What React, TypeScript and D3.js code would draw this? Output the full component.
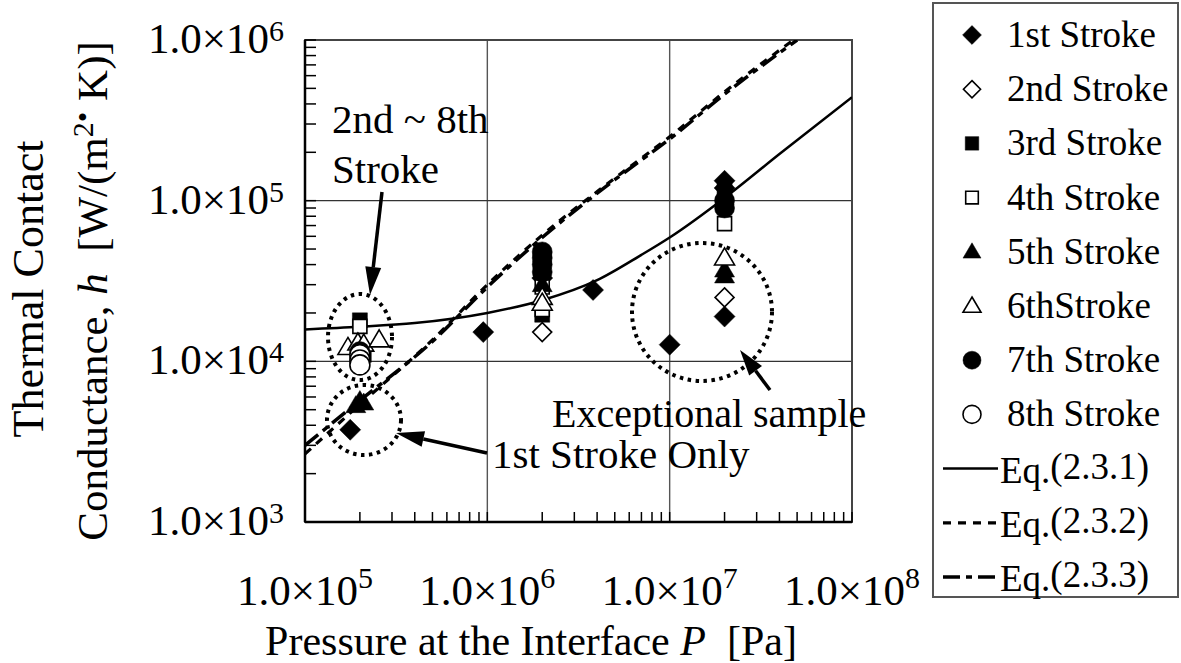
import * as d3 from 'd3';

// ---- data ----
const strokeNames = ['1st Stroke', '2nd Stroke', '3rd Stroke', '4th Stroke', '5th Stroke', '6thStroke', '7th Stroke', '8th Stroke'];
const eqNames = ['(2.3.1)', '(2.3.2)', '(2.3.3)'];

// measured points, pressure P [Pa] and conductance h [W/(m2 K)]
const s1P = [1.77e5, 9.5e5, 2e6, 3.8e6, 1e7, 2e7, 2e7, 2e7];
const s1H = [3.75e3, 1.52e4, 3.3e4, 2.78e4, 1.27e4, 1.9e4, 1.33e5, 1.2e5];
const s2P = [2e6, 2e7];
const s2H = [1.52e4, 2.5e4];
const s3P = [2e5, 2e6, 2e6, 2e7];
const s3H = [1.8e4, 1.95e4, 3.6e4, 1.15e5];
const s4P = [2e5, 2.1e5, 2e6, 2e6, 2e7];
const s4H = [1.65e4, 1.1e4, 2.1e4, 2.9e4, 7.2e4];
const s5P = [1.9e5, 2.0e5, 2.1e5, 2e6, 2e7, 2e7];
const s5H = [5.3e3, 5.7e3, 5.5e3, 3.0e4, 3.4e4, 3.7e4];
const s6P = [1.72e5, 1.95e5, 2.1e5, 2.55e5, 2e6, 2e6, 2e7];
const s6H = [1.22e4, 1.3e4, 1.28e4, 1.36e4, 2.5e4, 2.3e4, 4.4e4];
const s7P = [2e5, 2e6, 2e6, 2e6, 2e6, 2e7, 2e7];
const s7H = [1.15e4, 4.8e4, 4.4e4, 4.0e4, 3.6e4, 1.0e5, 9.0e4];
const s8P = [2e5, 2e5, 2e5];
const s8H = [1.1e4, 1.02e4, 9.5e3];

// model curves
const eq1P = [1e5, 2e5, 4e5, 1e6, 2e6, 4e6, 7e6, 1e7, 2e7, 4e7, 1e8];
const eq1H = [1.58e4, 1.64e4, 1.73e4, 2.0e4, 2.4e4, 3.2e4, 4.6e4, 5.9e4, 1.04e5, 1.95e5, 4.4e5];
const eq2P = [1e5, 2e5, 5e5, 1e6, 2e6, 5e6, 1e7, 2e7, 5e7];
const eq2H = [2.65e3, 5.4e3, 1.36e4, 3.0e4, 6.1e4, 1.38e5, 2.5e5, 4.75e5, 1.04e6];
const eq3P = [1e5, 2e5, 5e5, 1e6, 2e6, 5e6, 1e7, 2e7, 5e7];
const eq3H = [3.0e3, 5.7e3, 1.33e4, 2.9e4, 5.9e4, 1.35e5, 2.42e5, 4.6e5, 1.0e6];

const xTickExp = [5, 6, 7, 8];
const yTickExp = [3, 4, 5, 6];

const FONT = "'Liberation Serif','Times New Roman',serif";

const seriesP = [s1P, s2P, s3P, s4P, s5P, s6P, s7P, s8P];
const seriesH = [s1H, s2H, s3H, s4H, s5H, s6H, s7H, s8H];
const markerShape = ['diamond', 'diamond', 'square', 'square', 'triangle', 'triangle', 'circle', 'circle'];
const markerFilled = [true, false, true, false, true, false, true, false];
const eqDash = ['none', '8,7', '17,6,6,6'];

const Marker = ({ shape, filled, x, y, k = 1 }: { shape: string; filled: boolean; x: number; y: number; k?: number }) => {
  const fill = filled ? '#000' : '#fff';
  const sw = filled ? 0.5 : 1.6;
  if (shape === 'circle') {
    return <circle cx={x} cy={y} r={10 * k} fill={fill} stroke="#000" strokeWidth={sw} />;
  }
  let d = '';
  if (shape === 'diamond') {
    const r = (filled ? 10.5 : 9.5) * k;
    d = `M0,${-r}L${r},0L0,${r}L${-r},0Z`;
  } else if (shape === 'square') {
    const s = (filled ? 7.5 : 7) * k;
    d = `M${-s},${-s}H${s}V${s}H${-s}Z`;
  } else {
    const w = 10 * k;
    d = `M0,${-10 * k}L${w},${7 * k}L${-w},${7 * k}Z`;
  }
  return <path d={d} transform={`translate(${x},${y})`} fill={fill} stroke="#000" strokeWidth={sw} />;
};

const Arrow = ({ x1, y1, x2, y2, len = 28, half = 8 }: any) => {
  const a = Math.atan2(y2 - y1, x2 - x1);
  const bx = x2 - len * Math.cos(a);
  const by = y2 - len * Math.sin(a);
  const px = -Math.sin(a) * half;
  const py = Math.cos(a) * half;
  return (
    <g>
      <line x1={x1} y1={y1} x2={bx} y2={by} stroke="#000" strokeWidth={3.5} />
      <path d={`M${x2},${y2}L${bx + px},${by + py}L${bx - px},${by - py}Z`} fill="#000" />
    </g>
  );
};

export default function App() {
  const left = 305, right = 852, top = 40, bottom = 522;

  const x = d3.scaleLog().domain([1e5, 1e8]).range([left, right]);
  const y = d3.scaleLog().domain([1e3, 1e6]).range([bottom, top]);

  const line = d3.line<[number, number]>()
    .x(d => x(d[0]))
    .y(d => y(d[1]))
    .curve(d3.curveMonotoneX);

  const eqPaths = [
    line(eq1P.map((p, i) => [p, eq1H[i]])),
    line(eq2P.map((p, i) => [p, eq2H[i]])),
    line(eq3P.map((p, i) => [p, eq3H[i]])),
  ];
  const eqWidth = [2.5, 3.2, 3.5];

  const legendY = (i: number) => 35 + i * 54.2;

  return (
    <svg width={1181} height={663} style={{ position: 'absolute', left: 0, top: 0, background: '#fff' }} fontFamily={FONT}>
      <defs>
        <clipPath id="plotClip">
          <rect x={left} y={top} width={right - left} height={bottom - top} />
        </clipPath>
      </defs>

      {/* grid */}
      {[1e6, 1e7].map(v => (
        <line key={'gx' + v} x1={x(v)} x2={x(v)} y1={top} y2={bottom} stroke="#555" strokeWidth={1.4} />
      ))}
      {[1e4, 1e5].map(v => (
        <line key={'gy' + v} x1={left} x2={right} y1={y(v)} y2={y(v)} stroke="#333" strokeWidth={1.4} />
      ))}

      {/* frame */}
      <rect x={left} y={top} width={right - left} height={bottom - top} fill="none" stroke="#444" strokeWidth={2} />
      <line x1={left} x2={left} y1={top} y2={bottom} stroke="#000" strokeWidth={2.5} />
      <line x1={left} x2={right} y1={bottom} y2={bottom} stroke="#000" strokeWidth={2.5} />

      {/* minor ticks */}
      {y.ticks().map((v, i) => (
        <line key={'ty' + i} x1={left} x2={left + 11} y1={y(v)} y2={y(v)} stroke="#000" strokeWidth={1.5} />
      ))}
      {x.ticks().map((v, i) => (
        <line key={'tx' + i} x1={x(v)} x2={x(v)} y1={bottom} y2={bottom - 10} stroke="#000" strokeWidth={1.5} />
      ))}

      {/* tick labels */}
      {yTickExp.map(e => (
        <text key={'ly' + e} x={284} y={y(Math.pow(10, e)) + 13} textAnchor="end" fontSize={43}>
          1.0×10<tspan dy={-12} fontSize={30}>{e}</tspan>
        </text>
      ))}
      {xTickExp.map(e => (
        <text key={'lx' + e} x={x(Math.pow(10, e))} y={605} textAnchor="middle" fontSize={43}>
          1.0×10<tspan dy={-17} fontSize={30}>{e}</tspan>
        </text>
      ))}

      {/* axis titles */}
      <text x={531} y={655} textAnchor="middle" fontSize={42}>
        Pressure at the Interface <tspan fontStyle="italic">P</tspan>{'\u00a0\u00a0'}[Pa]
      </text>
      <text transform="translate(43,289) rotate(-90)" textAnchor="middle" fontSize={44}>Thermal Contact</text>
      <text transform="translate(107,291) rotate(-90)" textAnchor="middle" fontSize={43}>
        Conductance, <tspan fontStyle="italic">h</tspan>{'\u00a0\u00a0'}[W/(m<tspan dy={-14} fontSize={30}>2•</tspan><tspan dy={14}> K)]</tspan>
      </text>

      {/* model curves */}
      <g clipPath="url(#plotClip)">
        {eqPaths.map((d, i) => (
          <path key={'eq' + i} d={d ?? ''} fill="none" stroke="#000" strokeWidth={eqWidth[i]} strokeDasharray={eqDash[i]} />
        ))}
      </g>

      {/* measured points */}
      {seriesP.map((ps, si) => (
        <g key={'s' + si}>
          {ps.map((p, j) => (
            <Marker key={j} shape={markerShape[si]} filled={markerFilled[si]} x={x(p)} y={y(seriesH[si][j])} />
          ))}
        </g>
      ))}

      {/* annotations */}
      <g fill="none" stroke="#000" strokeWidth={4} strokeDasharray="3.5,4.5">
        <ellipse cx={360} cy={337} rx={32} ry={43} />
        <ellipse cx={364} cy={420} rx={37} ry={35} />
        <ellipse cx={702} cy={312} rx={70} ry={69} />
      </g>
      <Arrow x1={382} y1={192} x2={370} y2={295} />
      <Arrow x1={487} y1={453} x2={396} y2={433} />
      <Arrow x1={770} y1={390} x2={740} y2={350} len={26} />
      <text x={332} y={133} fontSize={41}>2nd ~ 8th</text>
      <text x={332} y={183} fontSize={41}>Stroke</text>
      <text x={552} y={427} fontSize={40}>Exceptional sample</text>
      <text x={492} y={468} fontSize={41}>1st Stroke Only</text>

      {/* legend */}
      <rect x={933} y={3} width={245} height={594} fill="#fff" stroke="#555" strokeWidth={2} />
      {strokeNames.map((name, i) => (
        <g key={'lg' + i}>
          <Marker shape={markerShape[i]} filled={markerFilled[i]} x={972} y={legendY(i)} k={0.9} />
          <text x={1007} y={legendY(i) + 12} fontSize={37}>{name}</text>
        </g>
      ))}
      {eqNames.map((name, i) => (
        <g key={'le' + i}>
          <line x1={943} x2={998} y1={legendY(8 + i)} y2={legendY(8 + i)} stroke="#000" strokeWidth={eqWidth[i]} strokeDasharray={eqDash[i]} />
          <text x={1000} y={legendY(8 + i) + 14} fontSize={37}>Eq.<tspan dy={-4}>{name}</tspan></text>
        </g>
      ))}
    </svg>
  );
}
